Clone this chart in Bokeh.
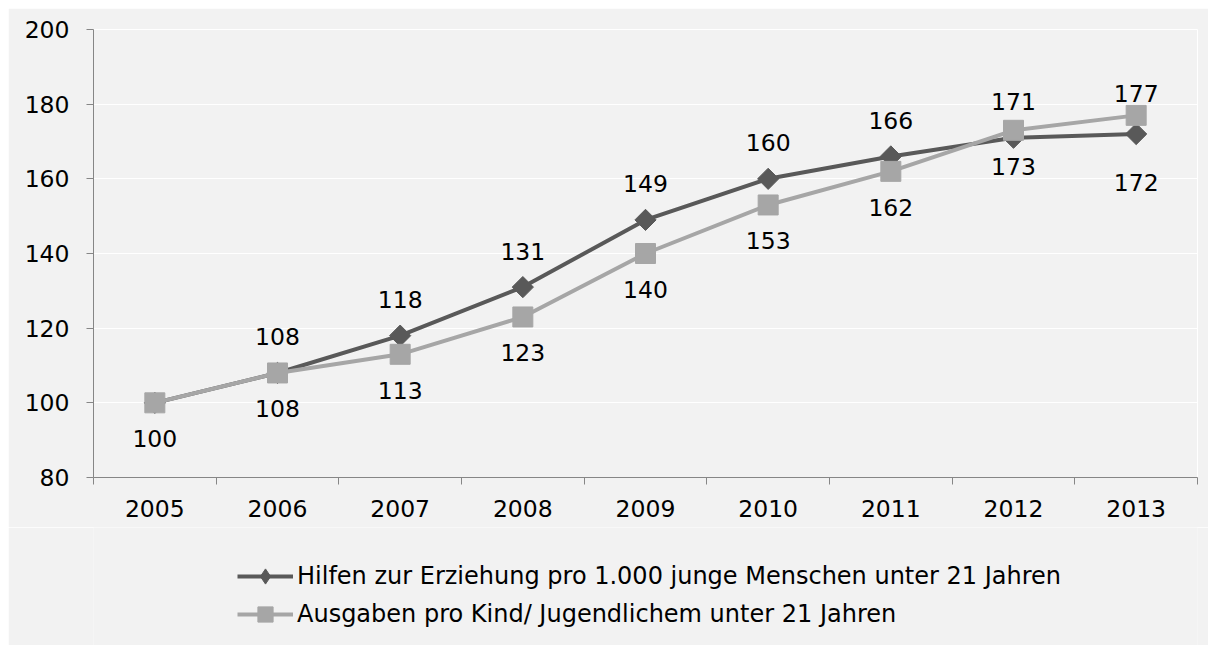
import numpy as np
from bokeh.plotting import figure
from bokeh.layouts import column
from bokeh.models import (ColumnDataSource, FixedTicker, Legend, LegendItem, Range1d)
from bokeh.core.properties import value
from bokeh.embed import file_html
from bokeh.resources import INLINE

# ---- data ----
years = ["2005", "2006", "2007", "2008", "2009", "2010", "2011", "2012", "2013"]
hilfen = [100, 108, 118, 131, 149, 160, 166, 171, 172]
ausgaben = [100, 108, 113, 123, 140, 153, 162, 173, 177]
name_hilfen = "Hilfen zur Erziehung pro 1.000 junge Menschen unter 21 Jahren"
name_ausgaben = "Ausgaben pro Kind/ Jugendlichem unter 21 Jahren"
y_ticks = [80, 100, 120, 140, 160, 180, 200]

# ---- styles ----
FONT = "DejaVu Sans"
BG = "#f2f2f2"
DARK = "#595959"
LIGHT = "#a6a6a6"
AXIS = "#868686"
FS = "23.5px"

x = list(range(len(years)))

p = figure(frame_width=1104, frame_height=448,
           x_range=Range1d(-0.5, len(years) - 0.5),
           y_range=Range1d(y_ticks[0], y_ticks[-1]),
           output_backend="svg", toolbar_location=None,
           min_border_left=85, min_border_right=11,
           min_border_top=21, min_border_bottom=50)
p.background_fill_color = BG
p.border_fill_color = BG
p.outline_line_color = "white"

# axes
p.xaxis.ticker = FixedTicker(ticks=x, minor_ticks=[i - 0.5 for i in range(len(years) + 1)])
p.xaxis.major_label_overrides = {i: y for i, y in enumerate(years)}
p.xaxis.major_tick_line_color = None
p.xaxis.major_tick_out = 0
p.xaxis.major_tick_in = 0
p.xaxis.minor_tick_line_color = AXIS
p.xaxis.minor_tick_out = 7
p.xaxis.minor_tick_in = 0
p.xaxis.axis_line_color = AXIS
p.xaxis.major_label_standoff = 15

p.yaxis.ticker = FixedTicker(ticks=y_ticks)
p.yaxis.minor_tick_line_color = None
p.yaxis.major_tick_line_color = AXIS
p.yaxis.major_tick_out = 7
p.yaxis.major_tick_in = 0
p.yaxis.axis_line_color = AXIS
p.yaxis.major_label_standoff = 17

for ax in (p.xaxis, p.yaxis):
    ax.major_label_text_font = FONT
    ax.major_label_text_font_size = FS
    ax.major_label_text_color = "black"

p.xgrid.grid_line_color = None
p.ygrid.grid_line_color = "white"
p.ygrid.grid_line_width = 1

# series
src_h = ColumnDataSource(dict(x=x, y=hilfen))
src_a = ColumnDataSource(dict(x=x, y=ausgaben))

line_h = dict(line_color=DARK, line_width=4)
mark_h = dict(marker="square", angle=np.pi / 4, size=15, fill_color=DARK, line_color=DARK)
line_a = dict(line_color=LIGHT, line_width=4)
mark_a = dict(marker="square", size=20, fill_color=LIGHT, line_color=LIGHT)

p.line("x", "y", source=src_h, **line_h)
p.scatter("x", "y", source=src_h, **mark_h)
p.line("x", "y", source=src_a, **line_a)
p.scatter("x", "y", source=src_a, **mark_a)

# data labels (Excel-style placement)
h_off = [-36] * (len(years) - 1) + [48]
a_off = [36] * (len(years) - 1) + [-22]
lab_h = ColumnDataSource(dict(x=x[1:], y=hilfen[1:], t=[str(v) for v in hilfen[1:]], dy=h_off[1:]))
lab_a = ColumnDataSource(dict(x=x, y=ausgaben, t=[str(v) for v in ausgaben], dy=a_off))
for s in (lab_h, lab_a):
    p.text("x", "y", text="t", source=s, y_offset="dy",
           text_font=value(FONT), text_font_size=FS, text_color="black",
           text_align="center", text_baseline="middle")

# ---- legend strip below the chart ----
# (series are re-used here only for the legend glyphs; they fall outside this strip's ranges)
q = figure(width=1200, height=118, x_range=Range1d(0, 1), y_range=Range1d(0, 1),
           x_axis_type=None, y_axis_type=None,
           output_backend="svg", toolbar_location=None,
           min_border=0, min_border_left=0, min_border_right=0,
           min_border_top=0, min_border_bottom=0)
q.background_fill_color = BG
q.border_fill_color = BG
q.outline_line_color = None
q.grid.grid_line_color = None
qlh = q.line("x", "y", source=src_h, **line_h)
qsh = q.scatter("x", "y", source=src_h, marker="diamond", size=15,
                fill_color=DARK, line_color=DARK)
qla = q.line("x", "y", source=src_a, **line_a)
qsa = q.scatter("x", "y", source=src_a, **mark_a)

legend = Legend(items=[LegendItem(label=name_hilfen, renderers=[qlh, qsh]),
                       LegendItem(label=name_ausgaben, renderers=[qla, qsa])],
                orientation="vertical", location=(144, 12))
legend.background_fill_alpha = 0
legend.border_line_color = None
legend.label_text_font = FONT
legend.label_text_font_size = "24px"
legend.label_text_color = "black"
legend.glyph_width = 56
legend.glyph_height = 38
legend.label_height = 38
legend.label_standoff = 4
legend.spacing = 0
legend.padding = 0
legend.margin = 0
q.add_layout(legend, "center")

layout = column(p, q, spacing=0)
layout.margin = (8, 0, 0, 8)

open("out.html", "w").write(file_html(layout, INLINE))
